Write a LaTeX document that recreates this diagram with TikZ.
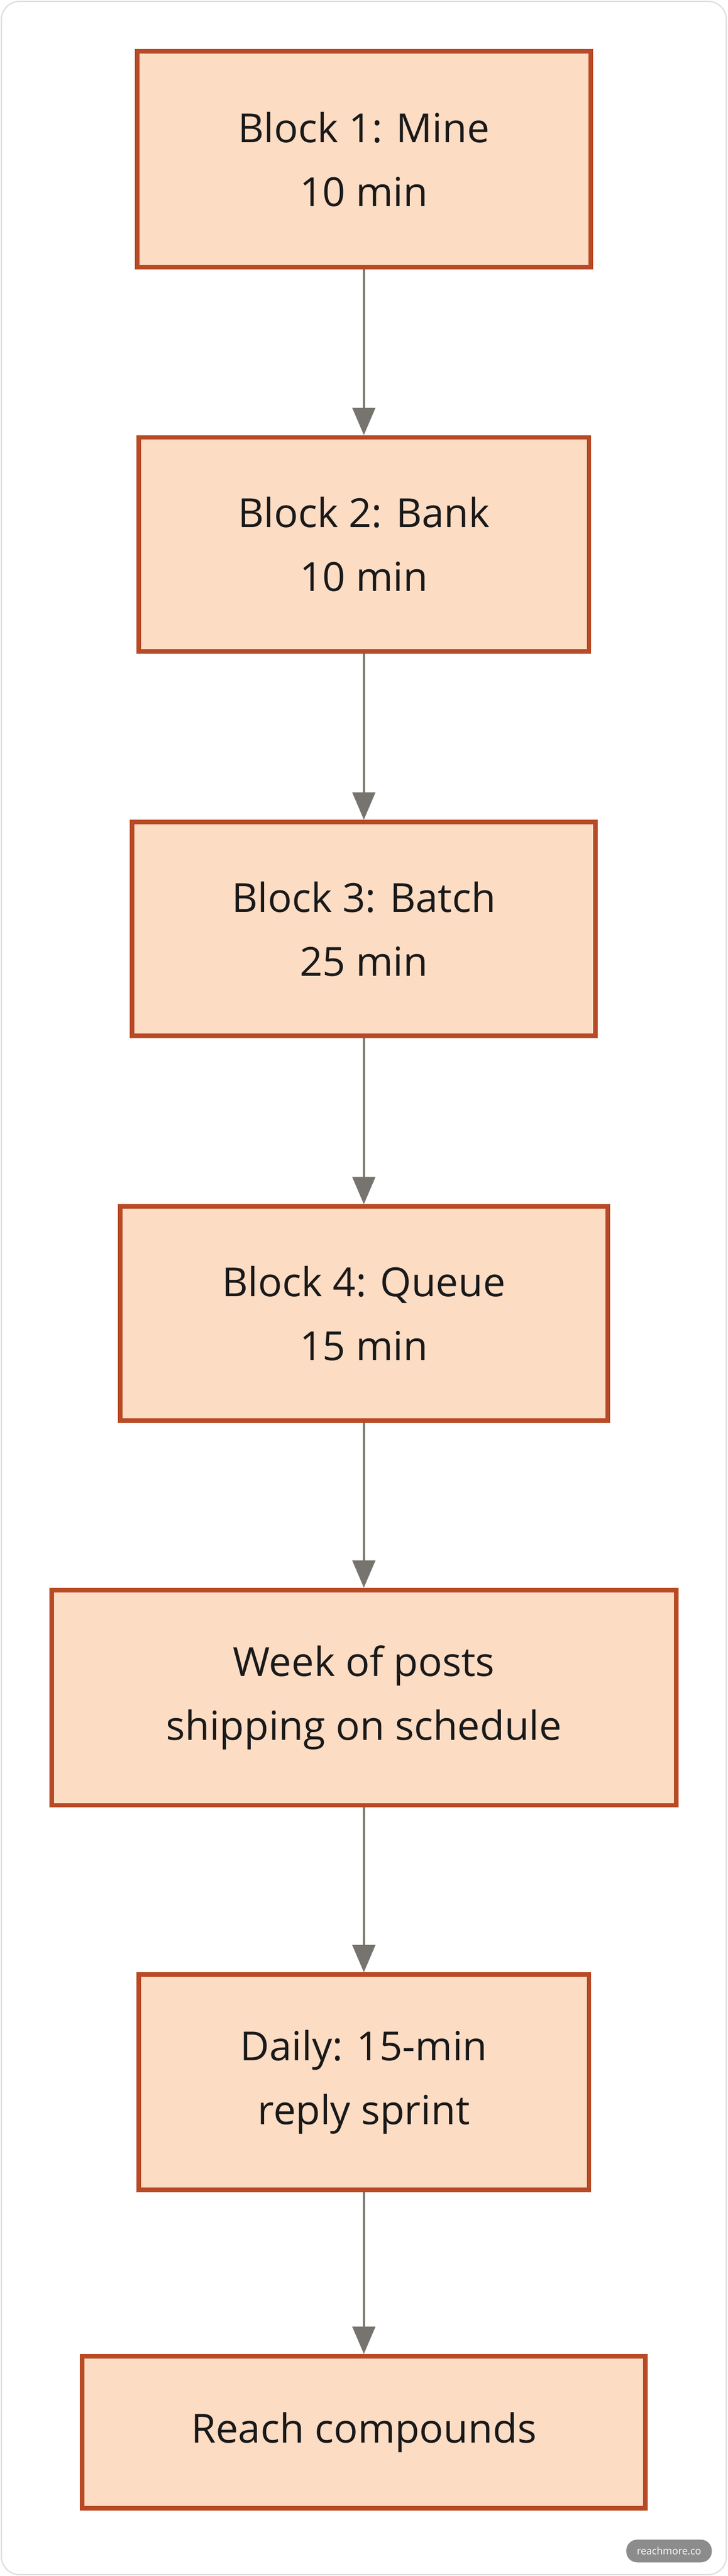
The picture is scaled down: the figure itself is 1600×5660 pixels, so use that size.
\documentclass[tikz,border=0pt]{standalone}
\usepackage{fontspec}
\setmainfont{Open Sans}
\usetikzlibrary{arrows.meta}
\definecolor{bfill}{HTML}{FDDCC4}
\definecolor{bdraw}{HTML}{B84A26}
\definecolor{arr}{HTML}{777470}
\begin{document}
\begin{tikzpicture}[x=1pt,y=-1pt,
  box/.style={draw=bdraw,fill=bfill,line width=10pt,align=center,font=\fontsize{88}{140}\selectfont,text=black!90},
  link/.style={draw=arr,line width=5pt,-{Triangle[length=60pt,width=50pt]}}]
\useasboundingbox (0,0) rectangle (1600,5660);
\draw[draw=black!12,line width=3pt,rounded corners=40pt,fill=white] (3,3) rectangle (1597,5657);
\node[box,minimum width=997pt,minimum height=474pt] (b1) at (800,350) {Block 1: Mine\\10 min};
\node[box,minimum width=990pt,minimum height=470pt] (b2) at (800,1196) {Block 2: Bank\\10 min};
\node[box,minimum width=1019pt,minimum height=470pt] (b3) at (800,2041) {Block 3: Batch\\25 min};
\node[box,minimum width=1072pt,minimum height=470pt] (b4) at (800,2886) {Block 4: Queue\\15 min};
\node[box,minimum width=1373pt,minimum height=473pt] (b5) at (800,3730) {Week of posts\\shipping on schedule};
\node[box,minimum width=990pt,minimum height=473pt] (b6) at (800,4575) {Daily: 15-min\\reply sprint};
\node[box,minimum width=1238pt,minimum height=334pt] (b7) at (800,5344) {Reach compounds};
\foreach \a/\b in {b1/b2,b2/b3,b3/b4,b4/b5,b5/b6,b6/b7} \draw[link] (\a) -- (\b);
\node[fill=black!45,rounded corners=24pt,minimum width=188pt,minimum height=50pt,text=white,font=\fontsize{22}{24}\selectfont] (wm) at (1471,5605) {reachmore.co};
\end{tikzpicture}
\end{document}
